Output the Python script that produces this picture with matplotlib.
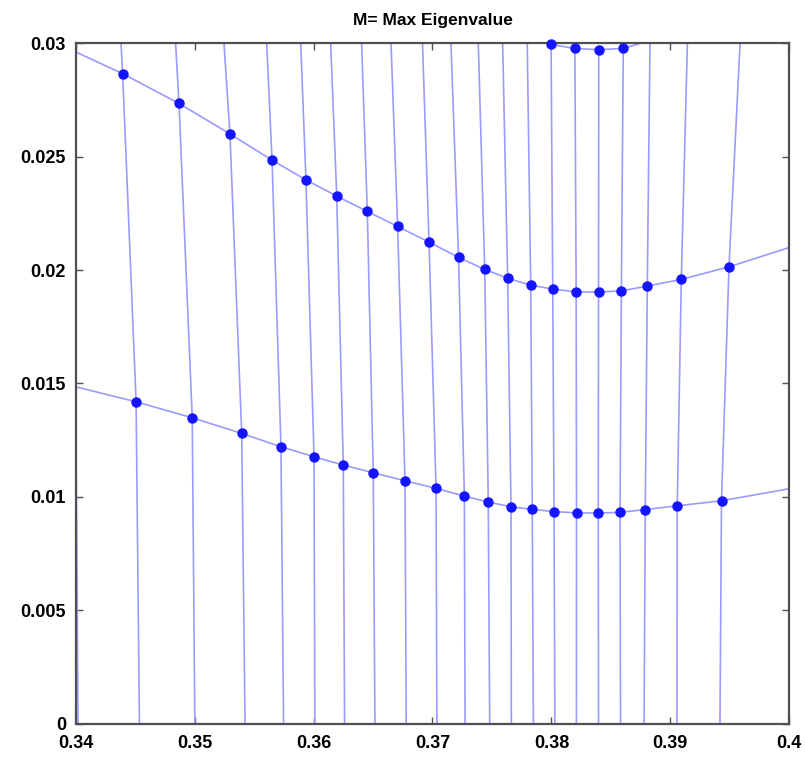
import numpy as np
import matplotlib
matplotlib.use("Agg")
import matplotlib.pyplot as plt

# ---- mesh data (columns 0..21) ----
# bottom row (y = 0)
bottom_x = [0.34020, 0.34536, 0.35002, 0.35424, 0.35748, 0.36011, 0.36261, 0.36516,
            0.36779, 0.37037, 0.37274, 0.37481, 0.37663, 0.37848, 0.38029, 0.38210,
            0.38396, 0.38581, 0.38779, 0.39055, 0.39417, 0.40030]
bottom_y = [0.0] * 22

# lower curve
low_x = [0.339995, 0.34508, 0.34980, 0.35396, 0.35726, 0.36004, 0.36250, 0.36502,
         0.36769, 0.37030, 0.37268, 0.37469, 0.37660, 0.37839, 0.38022, 0.38211,
         0.38394, 0.38577, 0.38789, 0.39058, 0.39430, 0.40080]
low_y = [0.01485, 0.014189, 0.013483, 0.012795, 0.012205, 0.011764, 0.011398, 0.011058,
         0.010705, 0.010370, 0.010031, 0.009766, 0.009559, 0.009444, 0.009347, 0.009290,
         0.009281, 0.009312, 0.009436, 0.009599, 0.009824, 0.010430]

# upper curve
up_x = [0.33920, 0.34395, 0.34869, 0.35297, 0.35651, 0.35936, 0.36195, 0.36452,
        0.36707, 0.36971, 0.37219, 0.37439, 0.37632, 0.37826, 0.38011, 0.38208,
        0.38396, 0.38588, 0.38806, 0.39092, 0.39493, 0.40200]
up_y = [0.029816, 0.028660, 0.027346, 0.026005, 0.024846, 0.023977, 0.023258, 0.022584,
        0.021922, 0.021230, 0.020560, 0.020026, 0.019634, 0.019334, 0.019158, 0.019039,
        0.019026, 0.019083, 0.019290, 0.019586, 0.020141, 0.021330]

# top curve (mostly above the visible range)
top_x = [0.33800, 0.34229, 0.34702, 0.35115, 0.35530, 0.35838, 0.36096, 0.36370,
         0.36622, 0.36896, 0.37141, 0.37378, 0.37587, 0.37796, 0.37997, 0.38197,
         0.38398, 0.38604, 0.38829, 0.39146, 0.39600, 0.40350]
top_y = [0.04629, 0.04458, 0.04260, 0.04054, 0.03875, 0.03741, 0.03630, 0.03526,
         0.03426, 0.03318, 0.03214, 0.03131, 0.03072, 0.03021, 0.029947, 0.029771,
         0.029718, 0.029771, 0.03013, 0.03057, 0.03149, 0.03300]

x_ticks = [0.34, 0.35, 0.36, 0.37, 0.38, 0.39, 0.40]
x_tick_labels = ["0.34", "0.35", "0.36", "0.37", "0.38", "0.39", "0.4"]
y_ticks = [0, 0.005, 0.01, 0.015, 0.02, 0.025, 0.03]
y_tick_labels = ["0", "0.005", "0.01", "0.015", "0.02", "0.025", "0.03"]
title = "M= Max Eigenvalue"

XLIM = (0.34, 0.40)
YLIM = (0.0, 0.03)

plt.rcParams['font.family'] = ['Liberation Sans', 'DejaVu Sans']

fig = plt.figure(figsize=(8.05, 7.58), dpi=100)
ax = fig.add_axes([0.094, 0.0455, 0.8865, 0.8974])

line_col = '#9a9aff'
dot_col = '#1414ff'
lw = 1.2

X = np.array([bottom_x, low_x, up_x, top_x])
Y = np.array([bottom_y, low_y, up_y, top_y])

# vertical mesh lines (columns)
for j in range(X.shape[1]):
    ax.plot(X[:, j], Y[:, j], color=line_col, lw=lw, zorder=2)

# curves (rows) with markers
for i in (1, 2, 3):
    ax.plot(X[i], Y[i], color=line_col, lw=lw, zorder=2)
    m = (X[i] >= XLIM[0]) & (X[i] <= XLIM[1]) & (Y[i] >= YLIM[0]) & (Y[i] <= YLIM[1])
    ax.plot(X[i][m], Y[i][m], 'o', color=dot_col, ms=6.5, mec=dot_col,
            zorder=4, clip_on=False)

ax.set_xlim(*XLIM)
ax.set_ylim(*YLIM)
ax.set_xticks(x_ticks)
ax.set_xticklabels(x_tick_labels)
ax.set_yticks(y_ticks)
ax.set_yticklabels(y_tick_labels)

for s in ax.spines.values():
    s.set_color('#505050')
    s.set_linewidth(1.6)
    s.set_zorder(3)

ax.tick_params(direction='in', length=5, width=1, color='#505050',
               top=True, right=True, labelsize=13)
ax.tick_params(axis='x', pad=8)
ax.tick_params(axis='y', pad=7)
for lab in ax.get_xticklabels() + ax.get_yticklabels():
    lab.set_fontweight('bold')

ax.set_title(title, fontsize=12.5, fontweight='bold', pad=13)

fig.savefig("out.png", dpi=100)
